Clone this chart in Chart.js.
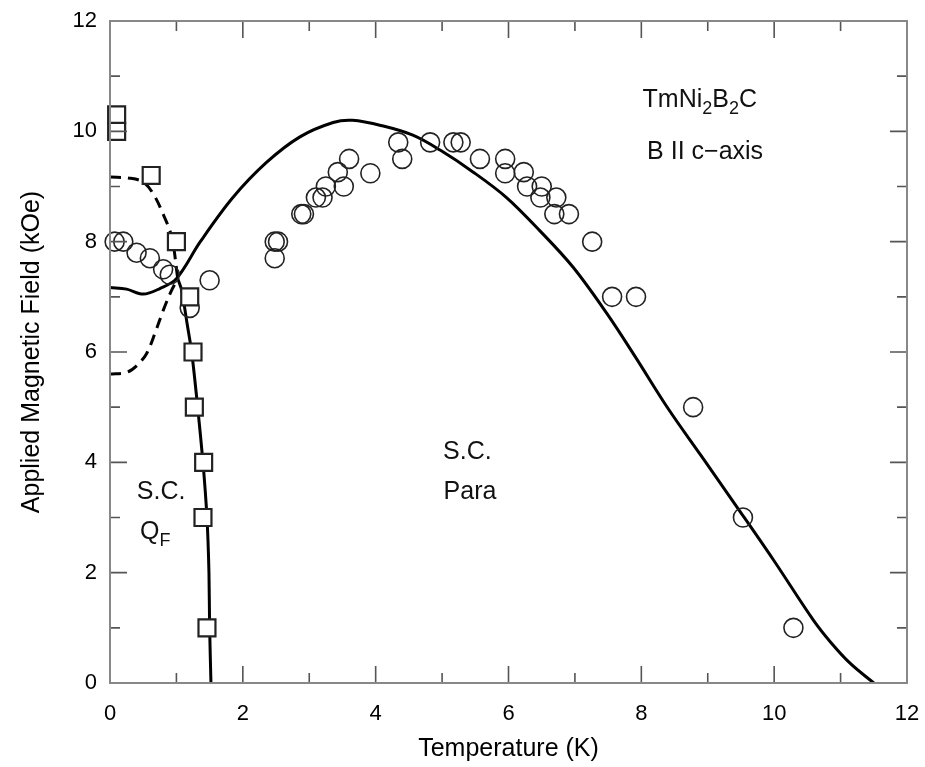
<!DOCTYPE html>
<html>
<head>
<meta charset="utf-8">
<script src="https://cdn.jsdelivr.net/npm/chart.js@4"></script>
<style>
  html, body { margin: 0; padding: 0; background: #fff; }
  #wrap { width: 925px; height: 767px; }
</style>
</head>
<body>
<div id="wrap"><canvas id="c" width="925" height="767"></canvas></div>
<script>
// open circles (T in K, H in kOe)
const circleT = [0.07, 0.2, 0.4, 0.6, 0.8, 0.9, 1.2, 1.5, 2.48, 2.53, 2.48, 2.88, 2.92, 3.1, 3.2,
  3.25, 3.43, 3.52, 3.6, 3.92, 4.34, 4.4, 4.82, 5.17, 5.28, 5.57, 5.95, 5.95, 6.23, 6.28,
  6.5, 6.48, 6.72, 6.69, 6.91, 7.26, 7.56, 7.92, 8.78, 9.53, 10.29];
const circleH = [8.0, 8.0, 7.8, 7.7, 7.5, 7.4, 6.8, 7.3, 8.0, 8.0, 7.7, 8.5, 8.5, 8.8, 8.8,
  9.0, 9.26, 9.0, 9.5, 9.24, 9.8, 9.5, 9.8, 9.8, 9.8, 9.5, 9.5, 9.24, 9.26, 9.0,
  9.0, 8.8, 8.8, 8.5, 8.5, 8.0, 7.0, 7.0, 5.0, 3.0, 1.0];

// open squares
const squareT = [0.1, 0.1, 0.62, 1.0, 1.2, 1.25, 1.27, 1.41, 1.4, 1.46];
const squareH = [10.3, 10.0, 9.2, 8.0, 7.0, 6.0, 5.0, 4.0, 3.0, 1.0];

// solid curve, S.C. Para boundary
const paraT = [0, 0.25, 0.5, 0.75, 1.0, 1.36, 1.85, 2.36, 2.86, 3.36, 3.65, 4.1, 4.56, 4.97,
  5.47, 5.97, 6.47, 6.97, 7.48, 7.9, 8.4, 8.9, 9.44, 9.99, 10.59, 10.85, 11.15, 11.5];
const paraH = [7.17, 7.14, 7.05, 7.15, 7.33, 8.0, 8.8, 9.44, 9.9, 10.16, 10.2, 10.1, 9.93, 9.66,
  9.26, 8.8, 8.2, 7.54, 6.7, 5.93, 4.98, 4.12, 3.19, 2.23, 1.14, 0.74, 0.35, 0];

// solid steep curve, S.C. QF boundary
const qfT = [1.02, 1.08, 1.16, 1.23, 1.32, 1.4, 1.46, 1.49, 1.5, 1.52];
const qfH = [7.33, 7.12, 6.52, 6.0, 5.0, 4.0, 3.0, 2.0, 1.0, 0];

// dashed curves
const dashUpT = [0, 0.3, 0.5, 0.65, 0.8, 0.93, 1.02];
const dashUpH = [9.17, 9.15, 9.08, 8.87, 8.5, 8.08, 7.33];
const dashLoT = [0, 0.25, 0.4, 0.55, 0.68, 0.8, 0.92, 1.02];
const dashLoH = [5.6, 5.63, 5.75, 5.97, 6.35, 6.75, 7.1, 7.33];

const xTicks = [0, 2, 4, 6, 8, 10, 12];
const yTicks = [0, 2, 4, 6, 8, 10, 12];

const FONT = '"Liberation Sans", Arial, Helvetica, sans-serif';

const pts = (xs, ys) => xs.map((x, i) => ({ x, y: ys[i] }));

// inward ticks on all four sides and the frame
const framePlugin = {
    id: 'frame',
    afterDatasetsDraw(chart) {
        const { ctx, chartArea: a, scales: { x, y } } = chart;
        ctx.save();
        ctx.strokeStyle = '#555';
        ctx.lineWidth = 1.6;
        ctx.beginPath();
        for (let v = 1; v < 12; v++) {
            const len = v % 2 === 0 ? 17 : 10;
            const px = x.getPixelForValue(v);
            ctx.moveTo(px, a.bottom); ctx.lineTo(px, a.bottom - len);
            ctx.moveTo(px, a.top); ctx.lineTo(px, a.top + len);
            const py = y.getPixelForValue(v);
            ctx.moveTo(a.left, py); ctx.lineTo(a.left + len, py);
            ctx.moveTo(a.right, py); ctx.lineTo(a.right - len, py);
        }
        ctx.stroke();
        ctx.strokeStyle = '#888';
        ctx.lineWidth = 2;
        ctx.strokeRect(a.left, a.top, a.right - a.left, a.bottom - a.top);
        ctx.restore();
    },
};

// text with subscripts: runs of [text, isSub]
function drawRuns(ctx, runs, cx, cy, size) {
    const big = size + 'px ' + FONT;
    const small = Math.round(size * 0.7) + 'px ' + FONT;
    let w = 0;
    runs.forEach(([t, sub]) => { ctx.font = sub ? small : big; w += ctx.measureText(t).width; });
    let xx = cx - w / 2;
    ctx.textAlign = 'left';
    ctx.textBaseline = 'middle';
    runs.forEach(([t, sub]) => {
        ctx.font = sub ? small : big;
        ctx.fillText(t, xx, sub ? cy + size * 0.35 : cy);
        xx += ctx.measureText(t).width;
    });
}

const labelPlugin = {
    id: 'labels',
    afterDraw(chart) {
        const { ctx, scales: { x, y } } = chart;
        ctx.save();
        ctx.fillStyle = '#111';
        const at = (tx, hy) => [x.getPixelForValue(tx), y.getPixelForValue(hy)];
        drawRuns(ctx, [['TmNi', false], ['2', true], ['B', false], ['2', true], ['C', false]], ...at(8.88, 10.56), 25);
        drawRuns(ctx, [['B II c\u2212axis', false]], ...at(8.96, 9.62), 25);
        drawRuns(ctx, [['S.C.', false]], ...at(5.38, 4.18), 25);
        drawRuns(ctx, [['Para', false]], ...at(5.42, 3.46), 25);
        drawRuns(ctx, [['S.C.', false]], ...at(0.77, 3.46), 25);
        drawRuns(ctx, [['Q', false], ['F', true]], ...at(0.68, 2.74), 25);
        ctx.restore();
    },
};

const lineStyle = {
    showLine: true,
    pointRadius: 0,
    borderColor: '#000',
    borderWidth: 3,
    tension: 0.35,
    fill: false,
};

new Chart(document.getElementById('c'), {
    type: 'scatter',
    data: {
        datasets: [
            {
                label: 'squares',
                data: pts(squareT, squareH),
                pointStyle: 'rect',
                pointRadius: 12,
                borderColor: '#222',
                borderWidth: 2.2,
                backgroundColor: '#fff',
                clip: false,
            },
            {
                label: 'circles',
                data: pts(circleT, circleH),
                pointStyle: 'circle',
                pointRadius: 9.5,
                borderColor: '#222',
                borderWidth: 1.6,
                backgroundColor: 'rgba(0,0,0,0)',
                clip: false,
            },
            { label: 'para', data: pts(paraT, paraH), ...lineStyle },
            { label: 'qf', data: pts(qfT, qfH), ...lineStyle, tension: 0.2 },
            { label: 'dash up', data: pts(dashUpT, dashUpH), ...lineStyle, borderDash: [11, 7] },
            { label: 'dash low', data: pts(dashLoT, dashLoH), ...lineStyle, borderDash: [11, 7] },
        ],
    },
    options: {
        responsive: false,
        animation: false,
        layout: { padding: { top: 21, right: 18, left: 0, bottom: 0 } },
        plugins: {
            legend: { display: false },
            tooltip: { enabled: false },
        },
        scales: {
            x: {
                type: 'linear',
                min: 0,
                max: 12,
                afterFit: (s) => { s.height = 84; s.paddingLeft = 0; s.paddingRight = 0; },
                afterBuildTicks: (s) => { s.ticks = xTicks.map((v) => ({ value: v })); },
                grid: { display: false, drawTicks: false },
                border: { display: false },
                ticks: { padding: 18, color: '#000', font: { family: FONT, size: 22 } },
                title: {
                    display: true,
                    text: 'Temperature (K)',
                    color: '#000',
                    font: { family: FONT, size: 25 },
                    padding: { top: 0, bottom: 3 },
                },
            },
            y: {
                type: 'linear',
                min: 0,
                max: 12,
                afterFit: (s) => { s.width = 110; s.paddingTop = 0; s.paddingBottom = 0; },
                afterBuildTicks: (s) => { s.ticks = yTicks.map((v) => ({ value: v })); },
                grid: { display: false, drawTicks: false },
                border: { display: false },
                ticks: { padding: 13, color: '#000', font: { family: FONT, size: 22 } },
                title: {
                    display: true,
                    text: 'Applied Magnetic Field (kOe)',
                    color: '#000',
                    font: { family: FONT, size: 25 },
                    padding: { top: 17, bottom: 0 },
                },
            },
        },
    },
    plugins: [framePlugin, labelPlugin],
});
</script>
</body>
</html>
